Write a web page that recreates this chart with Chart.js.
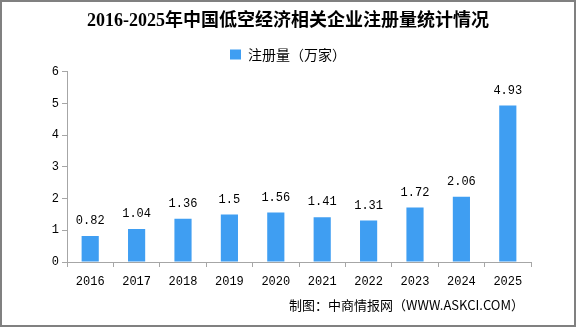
<!DOCTYPE html>
<html lang="zh">
<head>
<meta charset="UTF-8">
<title>2016-2025年中国低空经济相关企业注册量统计情况</title>
<script src="https://cdn.jsdelivr.net/npm/chart.js"></script>
<style>
    body { margin: 0; background: #fff; }
    #wrap { width: 576px; height: 327px; }
</style>
</head>
<body>
<div id="wrap"><canvas id="chart" width="576" height="327"></canvas></div>
<script>
    // 数据
    const years = ["2016", "2017", "2018", "2019", "2020", "2021", "2022", "2023", "2024", "2025"];
    const counts = [0.82, 1.04, 1.36, 1.5, 1.56, 1.41, 1.31, 1.72, 2.06, 4.93];
    const yTicks = [0, 1, 2, 3, 4, 5, 6];

    const monoFont = "'Liberation Mono', 'Noto Sans CJK SC', monospace";
    const axisColor = '#a6a6a6';

    // 柱顶数值 + 外框 + 来源
    const extras = {
        id: 'extras',
        afterDatasetsDraw(chart) {
            const ctx = chart.ctx;
            ctx.save();
            ctx.fillStyle = '#000';
            ctx.font = "12px " + monoFont;
            ctx.textAlign = 'center';
            ctx.textBaseline = 'middle';
            chart.getDatasetMeta(0).data.forEach((bar, i) => {
                ctx.fillText(String(counts[i]), bar.x, bar.y - 15);
            });
            ctx.textAlign = 'right';
            ctx.font = "13px 'Noto Sans CJK SC', monospace";
            ctx.fillText('制图：中商情报网（WWW.ASKCI.COM）', 524, 305);
            ctx.strokeStyle = '#808080';
            ctx.lineWidth = 2;
            ctx.strokeRect(1, 1, 574, 325);
            ctx.restore();
        }
    };

    new Chart(document.getElementById('chart'), {
        type: 'bar',
        data: {
            labels: years,
            datasets: [{
                label: '注册量（万家）',
                data: counts,
                backgroundColor: '#3f9ef2',
                barPercentage: 0.37,
                categoryPercentage: 1
            }]
        },
        options: {
            responsive: false,
            animation: false,
            layout: { padding: { left: 45, right: 45, top: 0, bottom: 35 } },
            plugins: {
                title: {
                    display: true,
                    text: '2016-2025年中国低空经济相关企业注册量统计情况',
                    color: '#000',
                    font: { family: "'Liberation Serif', 'Noto Sans CJK SC', serif", size: 18, weight: 'bold' },
                    padding: { top: 11, bottom: 9 }
                },
                legend: {
                    labels: {
                        color: '#000',
                        boxWidth: 11,
                        boxHeight: 10,
                        font: { family: "'Noto Sans CJK SC', sans-serif", size: 14 },
                        padding: 6
                    }
                },
                tooltip: { enabled: false }
            },
            scales: {
                x: {
                    afterFit(scale) { scale.height = 30; },
                    grid: { display: true, drawOnChartArea: false, offset: true, tickLength: 5, color: axisColor },
                    border: { color: axisColor },
                    ticks: { color: '#000', padding: 8, font: { family: monoFont, size: 12 }, maxRotation: 0 }
                },
                y: {
                    min: 0,
                    max: 6,
                    afterFit(scale) { scale.width = 22; },
                    afterBuildTicks(scale) { scale.ticks = yTicks.map(v => ({ value: v })); },
                    grid: { display: true, drawOnChartArea: false, tickLength: 5, color: axisColor },
                    border: { color: axisColor },
                    ticks: { color: '#000', padding: 3, font: { family: monoFont, size: 12 } }
                }
            }
        },
        plugins: [extras]
    });
</script>
</body>
</html>
